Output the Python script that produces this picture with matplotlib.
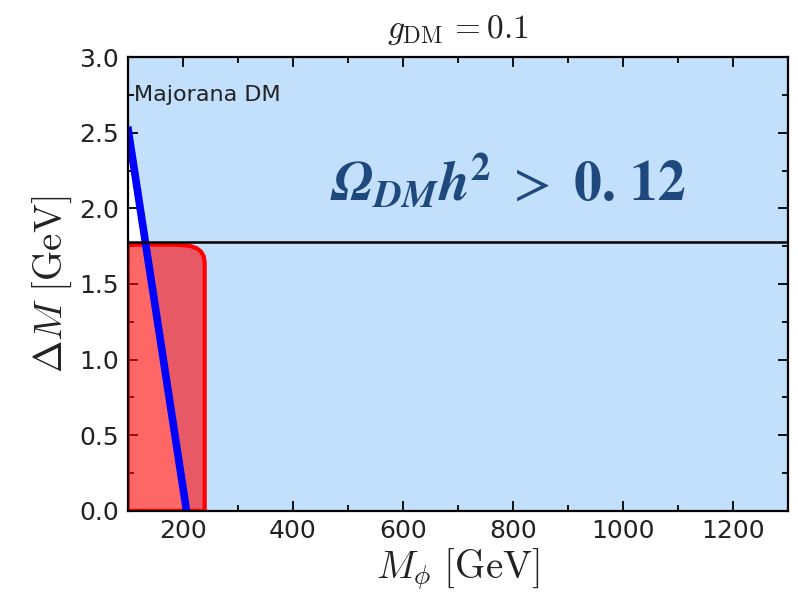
import numpy as np
import matplotlib
matplotlib.use('Agg')
from matplotlib import pyplot as plt
from matplotlib.ticker import MultipleLocator

plt.rcParams['mathtext.fontset'] = 'cm'
plt.rcParams['font.family'] = ['DejaVu Sans']

# relic density boundary (blue line), Omega h^2 > 0.12 to its right
blue_m = [207, 100]
blue_dm = [0.0, 2.54]
# same boundary continued past the left edge (for the shading only)
edge_m = [207, 100, 80]
edge_dm = [0.0, 2.54, 3.0]

# excluded region (red)
red_m = [100, 180, 200, 215, 226, 233, 238, 240, 240, 100]
red_dm = [1.76, 1.76, 1.757, 1.75, 1.735, 1.715, 1.685, 1.645, 0.0, 0.0]

# horizontal line
dm_line = 1.78

xmin, xmax = 100, 1300

fig = plt.figure(figsize=(7.98, 6.01), dpi=100)
ax = fig.add_axes([0.160, 0.150, 0.827, 0.755])

ax.fill_betweenx(edge_dm, edge_m, xmax, color='#c2dffc', lw=0, zorder=1)
ax.fill(red_m, red_dm, facecolor=(1, 0, 0, 0.6), edgecolor='red', lw=3, zorder=2)
ax.plot(blue_m, blue_dm, color='blue', lw=5.5, zorder=3, solid_capstyle='butt')
ax.axhline(dm_line, color='black', lw=1.8, zorder=4)

ax.text(112, 2.75, 'Majorana DM', fontsize=16, va='center', ha='left', color='#222222', zorder=5)
ax.text(507 / 0.55 - 128 / 0.55 + 100, 2.17,
        r'$\mathbfit{\Omega_{DM}h}^{\mathbf{2}}\ >\ \mathbf{0.\,12}$', fontsize=40,
        color='#1f497d', ha='center', va='center', math_fontfamily='stix', zorder=5)

ax.set_xlim(xmin, xmax)
ax.set_ylim(0, 3.0)
ax.xaxis.set_major_locator(MultipleLocator(200))
ax.xaxis.set_minor_locator(MultipleLocator(100))
ax.yaxis.set_major_locator(MultipleLocator(0.5))
ax.yaxis.set_minor_locator(MultipleLocator(0.25))
ax.tick_params(which='both', direction='in', top=True, right=True, width=1.3, labelsize=18, colors='black')
ax.tick_params(which='major', length=7, pad=6)
ax.tick_params(which='minor', length=4)
for s in ax.spines.values():
    s.set_linewidth(1.6)
    s.set_zorder(6)
for lab in ax.get_xticklabels() + ax.get_yticklabels():
    lab.set_color('#222222')

ax.set_xlabel(r'$M_\phi\ [\mathrm{GeV}]$', fontsize=28, color='#222222', labelpad=2)
ax.set_ylabel(r'$\Delta M\ [\mathrm{GeV}]$', fontsize=28, color='#222222', labelpad=4)
ax.set_title(r'$g_{\rm DM}\,{=}0.1$', fontsize=24, color='#222222', pad=14)

fig.savefig('out.png', dpi=100)
